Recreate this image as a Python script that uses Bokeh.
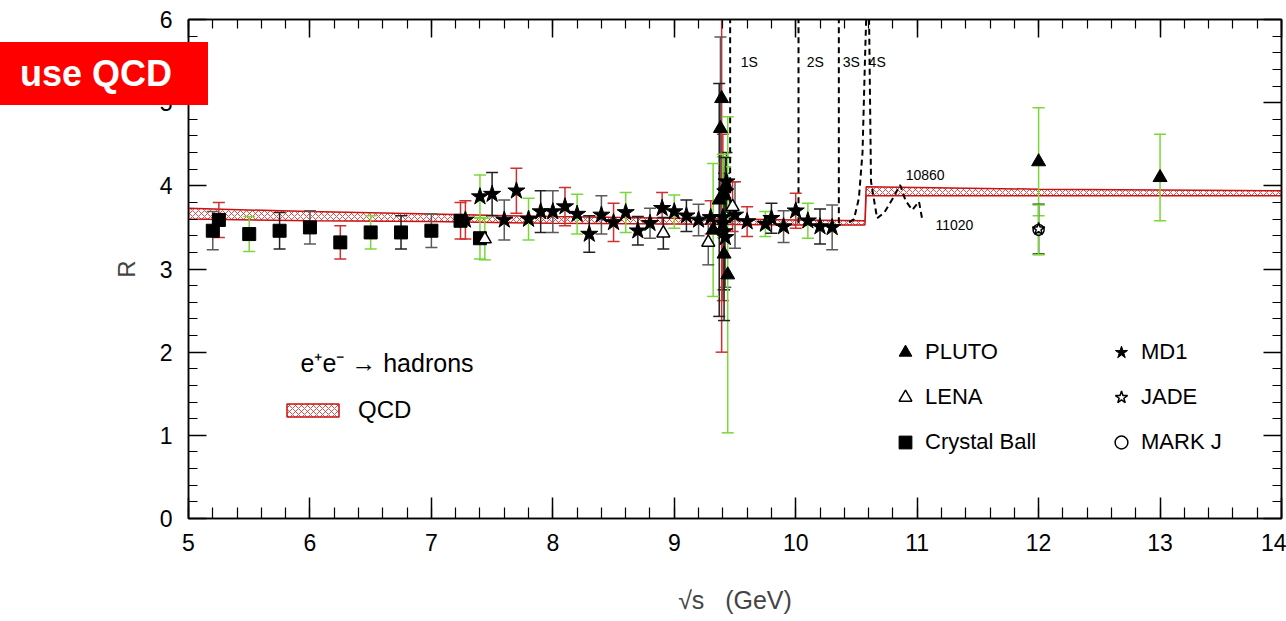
from bokeh.plotting import figure
from bokeh.models import (ColumnDataSource, LinearAxis, Label, Legend, LegendItem,
                          Range1d, FixedTicker, CustomJSTickFormatter)
from bokeh.embed import file_html
from bokeh.resources import INLINE

FONT = "Liberation Sans"

# ---------------- data ----------------
cb_x = [5.2, 5.25, 5.5, 5.75, 6.0, 6.25, 6.5, 6.75, 7.0, 7.24, 7.4]
cb_y = [3.46, 3.59, 3.42, 3.46, 3.50, 3.32, 3.44, 3.44, 3.46, 3.58, 3.37]
cb_err = [0.23, 0.21, 0.21, 0.22, 0.20, 0.20, 0.20, 0.20, 0.20, 0.22, 0.25]

pluto_x = [9.39, 9.38, 9.42, 9.40, 9.37, 9.32, 9.41, 9.44, 12.0, 13.0]
pluto_y = [5.05, 4.69, 3.99, 3.88, 3.83, 3.47, 3.18, 2.93, 4.29, 4.10]
pluto_err = [3.05, 1.10, 0.35, 0.50, 1.40, 0.80, 0.80, 1.90, 0.65, 0.52]

lena_x = [7.44, 8.91, 9.28, 9.48]
lena_y = [3.36, 3.43, 3.32, 3.75]
lena_err = [0.25, 0.19, 0.27, 0.30]

md1_x = [7.28, 7.40, 7.50, 7.60, 7.70, 7.80, 7.90, 8.00, 8.10, 8.20, 8.30, 8.40,
         8.50, 8.60, 8.70, 8.80, 8.90, 9.00, 9.10, 9.20, 9.30, 9.40, 9.41, 9.42,
         9.40, 9.42, 9.43, 9.50, 9.60, 9.75, 9.80, 9.90, 10.00, 10.10, 10.20, 10.30]
md1_y = [3.59, 3.87, 3.90, 3.59, 3.94, 3.60, 3.69, 3.69, 3.75, 3.66, 3.42, 3.65,
         3.56, 3.68, 3.46, 3.55, 3.73, 3.69, 3.64, 3.59, 3.62, 3.55, 3.45, 3.38,
         3.62, 3.93, 4.05, 3.65, 3.57, 3.54, 3.61, 3.51, 3.70, 3.58, 3.51, 3.50]
md1_err = [0.23, 0.26, 0.26, 0.24, 0.27, 0.25, 0.25, 0.25, 0.23, 0.24, 0.22, 0.23,
           0.23, 0.24, 0.17, 0.18, 0.19, 0.20, 0.19, 0.19, 0.20, 0.80, 0.70, 0.60,
           1.00, 0.30, 0.35, 0.40, 0.18, 0.15, 0.18, 0.19, 0.21, 0.21, 0.21, 0.27]

jade_x = [12.0]
jade_y = [3.48]
jade_err = [0.30]

markj_x = [12.0]
markj_y = [3.47]
markj_err = [0.30]

# QCD prediction band
qcd_x = [5.0, 6.0, 7.0, 8.0, 9.0, 10.0, 10.57, 10.58, 11.0, 12.0, 13.0, 14.0]
qcd_lo = [3.60, 3.58, 3.57, 3.55, 3.54, 3.53, 3.53, 3.88, 3.88, 3.88, 3.88, 3.88]
qcd_hi = [3.73, 3.69, 3.66, 3.63, 3.61, 3.59, 3.58, 3.99, 3.98, 3.96, 3.95, 3.94]

# Upsilon resonances
res_x = [9.46, 10.023, 10.355]
res_names = ["1S", "2S", "3S", "4S"]
ups4_x = [10.44, 10.48, 10.52, 10.55, 10.57, 10.59, 10.60, 10.62, 10.67, 10.73,
          10.80, 10.86, 10.905, 10.96, 11.015, 11.04]
ups4_y = [3.56, 3.60, 3.85, 4.40, 5.50, 6.50, 6.50, 4.05, 3.61, 3.68,
          3.85, 4.01, 3.82, 3.71, 3.81, 3.61]

x_ticks = [5, 6, 7, 8, 9, 10, 11, 12, 13, 14]
y_ticks = [0, 1, 2, 3, 4, 5, 6]

# ---------------- figure ----------------
p = figure(width=1286, height=621, x_range=Range1d(5, 14), y_range=Range1d(0, 6),
           output_backend="svg", toolbar_location=None,
           min_border_left=188, min_border_right=5, min_border_top=19, min_border_bottom=103)
p.xgrid.visible = False
p.ygrid.visible = False
p.outline_line_color = "black"
p.outline_line_width = 1.5
p.background_fill_color = "white"
p.border_fill_color = "white"

x_minor = [5 + 0.2 * i for i in range(46)]
y_minor = [0.2 * i for i in range(31)]


def style_axis(ax, ticker, labels=True, major_in=18, minor_in=9, size="23px"):
    ax.ticker = ticker
    ax.axis_line_color = "black"
    ax.axis_line_width = 1.5
    ax.major_tick_in = major_in
    ax.major_tick_out = 0
    ax.minor_tick_in = minor_in
    ax.minor_tick_out = 0
    ax.major_tick_line_color = "black"
    ax.major_tick_line_width = 1.5
    ax.minor_tick_line_color = "black"
    ax.minor_tick_line_width = 1.2
    ax.major_label_text_font = FONT
    ax.major_label_text_color = "black"
    ax.major_label_text_font_size = size
    if not labels:
        ax.formatter = CustomJSTickFormatter(code="return ''")
        ax.major_label_text_font_size = "10px"
        ax.major_label_standoff = 0


xt = FixedTicker(ticks=x_ticks, minor_ticks=x_minor)
yt = FixedTicker(ticks=y_ticks, minor_ticks=y_minor)

style_axis(p.xaxis[0], xt, major_in=21, minor_in=11)
p.xaxis[0].major_label_standoff = 15
p.xaxis[0].axis_label = "√s \u00a0\u00a0(GeV)"
p.xaxis[0].axis_label_text_font = FONT
p.xaxis[0].axis_label_text_font_style = "normal"
p.xaxis[0].axis_label_text_font_size = "25px"
p.xaxis[0].axis_label_standoff = 32

style_axis(p.yaxis[0], yt)
p.yaxis[0].major_label_standoff = 16
p.yaxis[0].axis_label = "R"
p.yaxis[0].axis_label_text_font = FONT
p.yaxis[0].axis_label_text_font_style = "normal"
p.yaxis[0].axis_label_text_font_size = "24px"
p.yaxis[0].axis_label_standoff = 17

top_ax = LinearAxis()
style_axis(top_ax, FixedTicker(ticks=x_ticks, minor_ticks=x_minor), labels=False)
p.add_layout(top_ax, "above")
right_ax = LinearAxis()
style_axis(right_ax, FixedTicker(ticks=y_ticks, minor_ticks=y_minor), labels=False)
p.add_layout(right_ax, "right")

# ---------------- QCD band ----------------
band_xs = qcd_x + qcd_x[::-1]
band_ys = qcd_lo + qcd_hi[::-1]
band_r = p.patch(band_xs, band_ys, fill_color="white", fill_alpha=0.0,
                 line_color="#cc1111", line_width=1.5,
                 hatch_pattern="x", hatch_color="#dd3333", hatch_scale=6,
                 hatch_weight=1, hatch_alpha=0.85)

# ---------------- resonances ----------------
p.segment(x0=res_x, y0=[3.55] * len(res_x), x1=res_x, y1=[7.0] * len(res_x),
          line_color="black", line_width=2, line_dash="6 4")
p.line(ups4_x, ups4_y, line_color="black", line_width=2, line_dash="6 4")

# ---------------- error bars + markers ----------------
GRAY, RED, GREEN, DARK = "#5a5a5a", "#d03030", "#78d838", "#222222"
EC = [GRAY, RED, GREEN, DARK]


def errbars(xs, ys, errs, shift=0, colors=None):
    cols = colors if colors is not None else [EC[(i + shift) % len(EC)] for i in range(len(xs))]
    lo = [y - e for y, e in zip(ys, errs)]
    hi = [y + e for y, e in zip(ys, errs)]
    src = ColumnDataSource(dict(x=xs, lo=lo, hi=hi, c=cols))
    p.segment(x0="x", y0="lo", x1="x", y1="hi", line_color="c", line_width=1.5, source=src)
    p.scatter(x="x", y="lo", marker="dash", size=12, line_color="c", line_width=1.5, source=src)
    p.scatter(x="x", y="hi", marker="dash", size=12, line_color="c", line_width=1.5, source=src)


errbars(cb_x, cb_y, cb_err, 0)
errbars(md1_x, md1_y, md1_err, 1)
errbars(pluto_x, pluto_y, pluto_err,
        colors=[RED, GRAY, DARK, GREEN, DARK, GREEN, DARK, GREEN, GREEN, GREEN])
errbars(lena_x, lena_y, lena_err, 2)
errbars(jade_x, jade_y, jade_err, colors=[DARK])
errbars(markj_x, markj_y, markj_err, colors=[GREEN])

cb_r = p.scatter(cb_x, cb_y, marker="square", size=13, fill_color="black", line_color="black")
md1_r = p.scatter(md1_x, md1_y, marker="star", size=18, fill_color="black", line_color="black")
pluto_r = p.scatter(pluto_x, pluto_y, marker="triangle", size=14, fill_color="black", line_color="black")
lena_r = p.scatter(lena_x, lena_y, marker="triangle", size=13, fill_color="white",
                   line_color="black", line_width=1.5)
jade_r = p.scatter(jade_x, jade_y, marker="star", size=13, fill_color="white",
                   line_color="black", line_width=1.5)
markj_r = p.scatter(markj_x, markj_y, marker="circle", size=11, fill_color=None,
                    line_color="black", line_width=1.5)

# ---------------- labels ----------------
lab_font = dict(text_font=FONT, text_color="black")
name_pos = [(9.547, 5.49), (10.09, 5.49), (10.387, 5.49), (10.60, 5.49)]
for nm, (lx, ly) in zip(res_names, name_pos):
    p.add_layout(Label(x=lx, y=ly, text=nm, text_font_size="14px", text_baseline="middle", **lab_font))
p.add_layout(Label(x=10.905, y=4.13, text="10860", text_font_size="14px", text_baseline="middle", **lab_font))
p.add_layout(Label(x=11.15, y=3.53, text="11020", text_font_size="14px", text_baseline="middle", **lab_font))

p.add_layout(Label(x=112, y=156, x_units="screen", y_units="screen", text="e⁺e⁻ → hadrons",
                   text_font_size="25px", text_baseline="middle", **lab_font))

# ---------------- legends ----------------
common = dict(border_line_color=None, background_fill_alpha=0, padding=0, margin=0,
              label_text_font=FONT, label_text_color="black")
leg1 = Legend(items=[LegendItem(label="PLUTO", renderers=[pluto_r]),
                     LegendItem(label="LENA", renderers=[lena_r]),
                     LegendItem(label="Crystal Ball", renderers=[cb_r])],
              location=(701, 60), spacing=13, glyph_width=32, glyph_height=32,
              label_height=32, label_standoff=4, label_text_font_size="22px", **common)
leg2 = Legend(items=[LegendItem(label="MD1", renderers=[md1_r]),
                     LegendItem(label="JADE", renderers=[jade_r]),
                     LegendItem(label="MARK J", renderers=[markj_r])],
              location=(917, 60), spacing=13, glyph_width=32, glyph_height=32,
              label_height=32, label_standoff=4, label_text_font_size="22px", **common)
leg3 = Legend(items=[LegendItem(label="QCD", renderers=[band_r])],
              location=(92, 94), glyph_width=65, glyph_height=16, label_height=16,
              label_standoff=13, label_text_font_size="24px", **common)
p.add_layout(leg1)
p.add_layout(leg2)
p.add_layout(leg3)

# ---------------- "use QCD" tag (overlay on the page) ----------------
tag_template = """
{% block postamble %}
<style>
#qcdtag { position: absolute; left: 0px; top: 42px; width: 188px; height: 63px;
  padding-left: 20px; background: #ff0000; color: #ffffff;
  font-family: 'Liberation Sans', Arial, sans-serif; font-weight: bold;
  font-size: 36px; line-height: 64px; z-index: 10; white-space: nowrap; }
</style>
{% endblock %}
{% block contents %}
{{ super() }}
<div id="qcdtag">use QCD</div>
{% endblock %}
"""

open("out.html", "w").write(file_html(p, INLINE, template=tag_template))
